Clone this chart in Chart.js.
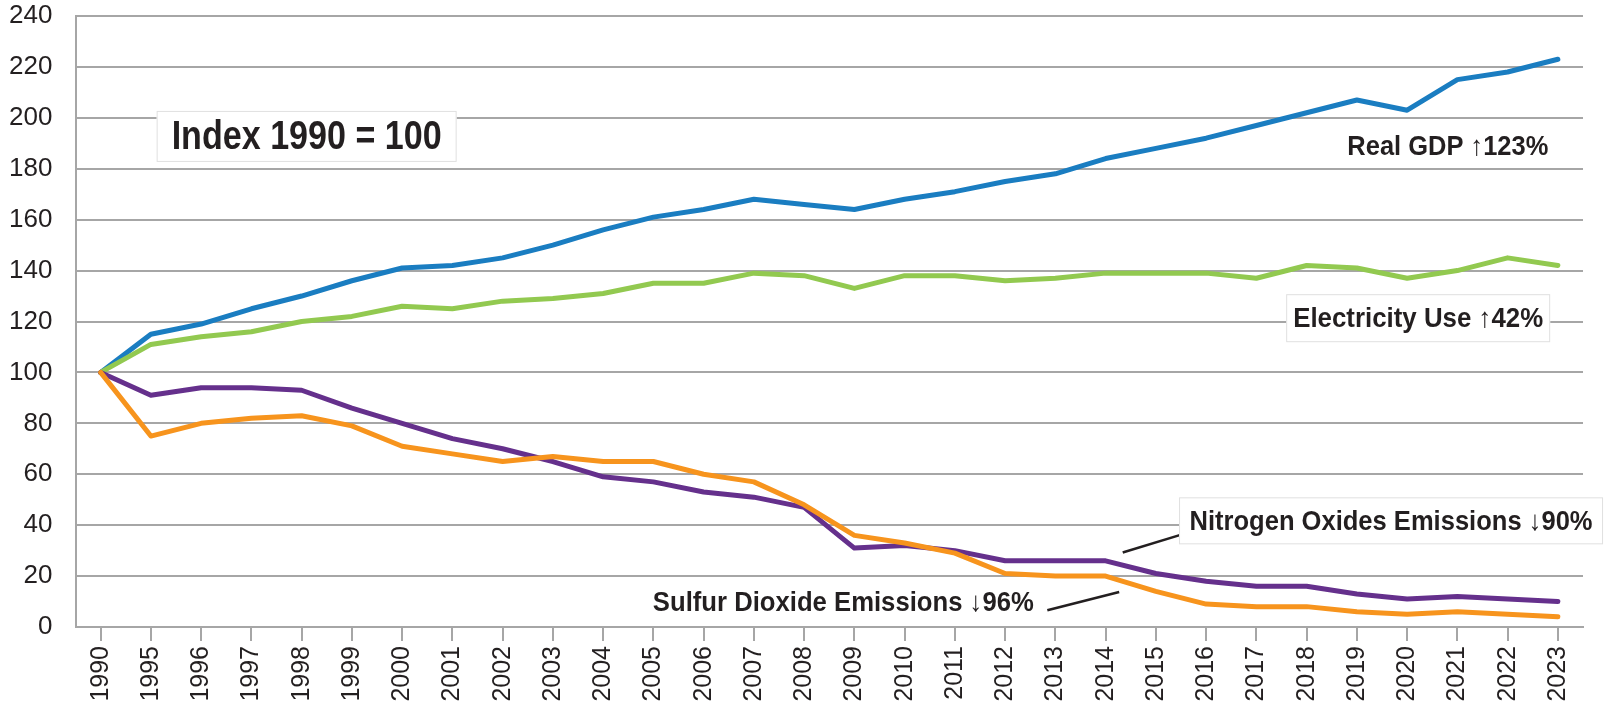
<!DOCTYPE html>
<html>
<head>
<meta charset="utf-8">
<script src="https://cdn.jsdelivr.net/npm/chart.js@4"></script>
<style>
  html, body { margin: 0; padding: 0; background: #fff; }
  #wrap { width: 1608px; height: 706px; }
</style>
</head>
<body>
<div id="wrap"><canvas id="chart"></canvas></div>
<script>
// Data (index, 1990 = 100)
const years = ['1990', '1995', '1996', '1997', '1998', '1999', '2000', '2001', '2002', '2003',
    '2004', '2005', '2006', '2007', '2008', '2009', '2010', '2011', '2012', '2013',
    '2014', '2015', '2016', '2017', '2018', '2019', '2020', '2021', '2022', '2023'];
const gdp = [100, 115, 119, 125, 130, 136, 141, 142, 145, 150, 156, 161, 164, 168, 166,
    164, 168, 171, 175, 178, 184, 188, 192, 197, 202, 207, 203, 215, 218, 223];
const electricity = [100, 111, 114, 116, 120, 122, 126, 125, 128, 129, 131, 135, 135, 139, 138,
    133, 138, 138, 136, 137, 139, 139, 139, 137, 142, 141, 137, 140, 145, 142];
const nox = [100, 91, 94, 94, 93, 86, 80, 74, 70, 65, 59, 57, 53, 51, 47,
    31, 32, 30, 26, 26, 26, 21, 18, 16, 16, 13, 11, 12, 11, 10];
const so2 = [100, 75, 80, 82, 83, 79, 71, 68, 65, 67, 65, 65, 60, 57, 48,
    36, 33, 29, 21, 20, 20, 14, 9, 8, 8, 6, 5, 6, 5, 4];
const yTicks = [0, 20, 40, 60, 80, 100, 120, 140, 160, 180, 200, 220, 240];

const FONT = '"Liberation Sans", Arial, sans-serif';
const INK = '#231f20';
const GRID = '#a6a6a6';

// Text labels, anchored in data coordinates (category index, value).
// tw = width the text is squeezed to (the original uses a narrow face)
const notes = [
    { text: 'Index 1990 = 100', x: 4.10, y: 192.7, size: 41, tw: 270, box: true, w: 300, h: 51 },
    { text: 'Real GDP \u2191123%', x: 26.81, y: 188.8, size: 28, tw: 201, box: false },
    { text: 'Electricity Use \u219142%', x: 26.22, y: 121.3, size: 28, tw: 250, box: true, w: 264, h: 48 },
    { text: 'Nitrogen Oxides Emissions \u219390%', x: 25.68, y: 41.7, size: 28, tw: 403, box: true, w: 424, h: 47 },
    { text: 'Sulfur Dioxide Emissions \u219396%', x: 14.78, y: 9.9, size: 28, tw: 381, box: false }
];
const leaders = [
    [20.34, 29.25, 21.62, 36.96],
    [18.84, 6.57, 20.27, 13.76]
];

const notesPlugin = {
    id: 'notes',
    afterDatasetsDraw(chart) {
        const ctx = chart.ctx;
        const xs = chart.scales.x, ys = chart.scales.y;
        ctx.save();
        ctx.strokeStyle = INK;
        ctx.lineWidth = 2.5;
        leaders.forEach(l => {
            ctx.beginPath();
            ctx.moveTo(xs.getPixelForValue(l[0]), ys.getPixelForValue(l[1]));
            ctx.lineTo(xs.getPixelForValue(l[2]), ys.getPixelForValue(l[3]));
            ctx.stroke();
        });
        notes.forEach(n => {
            const cx = xs.getPixelForValue(n.x);
            const cy = ys.getPixelForValue(n.y);
            if (n.box) {
                ctx.fillStyle = '#fff';
                ctx.fillRect(cx - n.w / 2, cy - n.h / 2, n.w, n.h);
                ctx.strokeStyle = '#e0e0e0';
                ctx.lineWidth = 1;
                ctx.strokeRect(cx - n.w / 2 + 0.5, cy - n.h / 2 + 0.5, n.w - 1, n.h - 1);
            }
            ctx.save();
            ctx.fillStyle = INK;
            ctx.font = 'bold ' + n.size + 'px ' + FONT;
            ctx.textAlign = 'center';
            ctx.textBaseline = 'middle';
            const sx = n.tw / ctx.measureText(n.text).width;
            ctx.translate(cx, cy + 1);
            ctx.scale(sx, 1);
            ctx.fillText(n.text, 0, 0);
            ctx.restore();
        });
        ctx.restore();
    }
};

function line(label, data, color, order) {
    return {
        label: label,
        data: data,
        borderColor: color,
        backgroundColor: color,
        borderWidth: 5,
        pointRadius: 0,
        tension: 0,
        borderCapStyle: 'round',
        borderJoinStyle: 'round',
        order: order
    };
}

new Chart(document.getElementById('chart'), {
    type: 'line',
    data: {
        labels: years,
        datasets: [
            line('Real GDP', gdp, '#1a7dc1', 4),
            line('Electricity Use', electricity, '#92c950', 3),
            line('Nitrogen Oxides Emissions', nox, '#65308c', 2),
            line('Sulfur Dioxide Emissions', so2, '#f7941d', 1)
        ]
    },
    options: {
        responsive: true,
        maintainAspectRatio: false,
        animation: false,
        layout: { padding: { top: 16, right: 25, left: 0, bottom: 0 } },
        plugins: {
            legend: { display: false },
            tooltip: { enabled: false }
        },
        scales: {
            x: {
                offset: true,
                grid: {
                    drawOnChartArea: false,
                    drawTicks: true,
                    tickLength: 14,
                    color: GRID,
                    lineWidth: 2
                },
                border: { color: GRID, width: 2 },
                ticks: {
                    color: INK,
                    minRotation: 90,
                    maxRotation: 90,
                    autoSkip: false,
                    padding: 5,
                    font: { family: FONT, size: 25 }
                },
                afterFit(s) {
                    s.height = 79;
                    s.paddingLeft = 0;
                    s.paddingRight = 0;
                }
            },
            y: {
                min: 0,
                max: 240,
                afterBuildTicks(s) { s.ticks = yTicks.map(v => ({ value: v })); },
                grid: { color: GRID, lineWidth: 2, drawTicks: false },
                border: { color: GRID, width: 2 },
                ticks: {
                    color: INK,
                    padding: 23,
                    font: { family: FONT, size: 26 }
                },
                afterFit(s) {
                    s.width = 75.5;
                    s.paddingTop = 0;
                    s.paddingBottom = 0;
                }
            }
        }
    },
    plugins: [notesPlugin]
});
</script>
</body>
</html>
